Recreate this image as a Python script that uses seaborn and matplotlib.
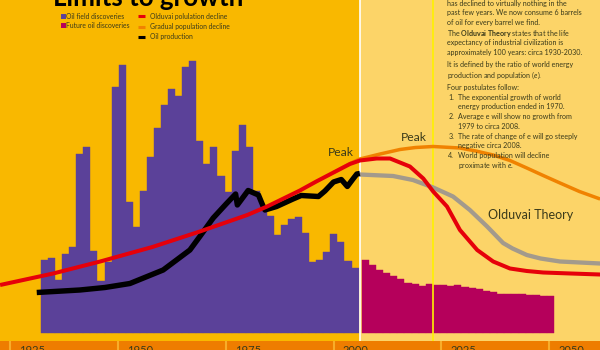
import numpy as np
import matplotlib
matplotlib.use("Agg")
import matplotlib.pyplot as plt
import seaborn as sns
from matplotlib.transforms import Affine2D, blended_transform_factory
from matplotlib.patches import Rectangle
from matplotlib.lines import Line2D

# ---------------- data ----------------
# oil field discoveries (historic) and future discoveries, one bar each
disc_values = [14.6, 15.1, 10.7, 15.9, 17.3, 35.7, 37.1, 16.4, 10.4, 14.3,
               49.1, 53.5, 26.1, 21.1, 28.4, 35.1, 40.9, 45.5, 48.8, 47.4,
               53.1, 54.3, 38.4, 33.8, 37.2, 31.3, 28.1, 36.3, 41.6, 37.2,
               28.3, 25.3, 23.4, 19.6, 21.6, 22.8, 23.2, 20.0, 14.3, 14.6,
               16.1, 19.8, 18.3, 14.5, 13.0]
future_values = [14.6, 13.6, 12.6, 12.1, 11.4, 10.9, 10.1, 9.9, 9.5, 9.8,
                 9.6, 9.6, 9.5, 9.7, 9.3, 9.1, 8.8, 8.5, 8.3, 7.8,
                 7.9, 7.9, 7.8, 7.7, 7.6, 7.5, 7.4]
disc_start, disc_step = 1932.19, 1.636
future_start, future_step = 2006.5, 1.654

# Olduvai population decline (red)
red_years = [1922.7, 1935.0, 1945.9, 1958.0, 1969.0, 1980.0, 1984.6, 1992.2,
             1996.0, 2000.0, 2003.8, 2006.1, 2010.0, 2013.1, 2017.7, 2020.8,
             2023.1, 2026.3, 2029.3, 2033.3, 2037.0, 2040.9, 2044.8, 2048.6,
             2055.0, 2061.8]
red_vals = [9.6, 11.9, 14.3, 17.2, 20.3, 23.6, 25.3, 28.5,
            30.3, 32.1, 33.8, 34.5, 34.9, 34.9, 33.3, 30.9,
            28.3, 25.3, 20.6, 16.6, 14.3, 12.9, 12.4, 12.1,
            11.9, 11.7]

# Gradual population decline (orange)
orange_years = [2000.0, 2003.8, 2006.1, 2010.8, 2015.4, 2019.0, 2023.1, 2029.3,
                2033.0, 2037.0, 2040.9, 2044.8, 2048.6, 2052.5, 2057.0, 2061.8]
orange_vals = [32.1, 33.9, 34.8, 35.8, 36.7, 37.1, 37.3, 37.0,
               36.4, 35.6, 34.5, 33.0, 31.5, 30.0, 28.3, 26.8]

# Olduvai theory (grey, production forecast)
gray_years = [2006.1, 2013.8, 2018.4, 2023.1, 2027.7, 2031.6, 2035.6, 2039.3,
              2041.5, 2044.8, 2048.0, 2052.5, 2061.8]
gray_vals = [31.7, 31.4, 30.6, 29.1, 27.3, 24.6, 21.3, 18.0,
             16.9, 15.6, 14.9, 14.3, 13.9]

# Oil production (black)
oil_years = [1931.2, 1941.2, 1947.0, 1952.8, 1960.5, 1966.7, 1969.0, 1972.1,
             1975.2, 1977.3, 1977.7, 1980.2, 1982.6, 1983.7, 1984.1, 1986.8,
             1990.6, 1992.5, 1996.5, 1998.0, 2000.0, 2001.8, 2003.2, 2004.5,
             2005.4, 2006.1]
oil_vals = [8.1, 8.6, 9.1, 9.9, 12.6, 16.6, 19.3, 23.0,
            25.9, 27.8, 25.6, 28.5, 27.6, 25.3, 24.6, 25.3,
            26.8, 27.5, 27.3, 28.4, 30.2, 30.7, 29.3, 30.8,
            31.8, 31.9]

tick_years = [1925, 1950, 1975, 2000, 2025, 2050]
tick_labels = ["1925", "1950", "1975", "2000", "2025", "2050"]
split_year = 2006.13
peak_year = 2023.0

# ---------------- style ----------------
BG_LEFT = "#F9B800"
BG_RIGHT = "#FCD468"
PURPLE = "#5B4199"
MAGENTA = "#B5005B"
RED = "#E6000A"
ORANGE = "#F08200"
GRAY = "#A39A8C"
STRIP = "#EE7D00"
SEP = "#F8AD2A"
TXT = "#3A3A1A"

sns.set_theme(style="white")
plt.rcParams["font.family"] = ["Lato", "DejaVu Sans"]
plt.rcParams["mathtext.fontset"] = "custom"
plt.rcParams["mathtext.rm"] = "Lato"
plt.rcParams["mathtext.it"] = "Lato:italic"
plt.rcParams["mathtext.bf"] = "Lato:bold"

fig = plt.figure(figsize=(6, 3.5), dpi=100)
fig.patch.set_facecolor(BG_LEFT)
PX = Affine2D().scale(1 / 600, -1 / 350).translate(0, 1) + fig.transFigure

XL = (1922.68, 2061.77)
ax = fig.add_axes([0, 9 / 350, 1, 341 / 350])
ax.set_xlim(*XL)
ax.set_ylim(-1.6, 66.6)
ax.set_facecolor(BG_LEFT)
for s in ax.spines.values():
    s.set_visible(False)
ax.set_xticks([])
ax.set_yticks([])
ax.axvspan(split_year, XL[1] + 2, color=BG_RIGHT, lw=0, zorder=0)

ax.bar(disc_start + np.arange(len(disc_values)) * disc_step, disc_values,
       width=disc_step, align="edge", color=PURPLE, edgecolor=PURPLE,
       linewidth=0.3, zorder=2)
ax.bar(future_start + np.arange(len(future_values)) * future_step, future_values,
       width=future_step, align="edge", color=MAGENTA, edgecolor=MAGENTA,
       linewidth=0.3, zorder=2)

ax.axvline(split_year, color="white", lw=1.2, zorder=3)
ax.axvline(peak_year, color="#FFF200", lw=1.2, zorder=3)

sns.lineplot(x=gray_years, y=gray_vals, ax=ax, color=GRAY, linewidth=3.1,
             sort=False, estimator=None, zorder=4, solid_capstyle="butt")
sns.lineplot(x=orange_years, y=orange_vals, ax=ax, color=ORANGE, linewidth=2.5,
             sort=False, estimator=None, zorder=5, solid_capstyle="butt")
sns.lineplot(x=oil_years, y=oil_vals, ax=ax, color="black", linewidth=3.9,
             sort=False, estimator=None, zorder=6, solid_capstyle="butt",
             solid_joinstyle="round")
sns.lineplot(x=red_years, y=red_vals, ax=ax, color=RED, linewidth=2.9,
             sort=False, estimator=None, zorder=7, solid_capstyle="butt")

ax.text(2001.6, 36.1, "Peak", fontsize=8.7, color=TXT, ha="center", va="center", zorder=8)
ax.text(2018.65, 39.1, "Peak", fontsize=8.7, color=TXT, ha="center", va="center", zorder=8)
ax.text(2045.65, 23.6, "Olduvai Theory", fontsize=9, color=TXT, ha="center",
        va="center", zorder=8)

# bottom strip with the years
ax2 = fig.add_axes([0, 0, 1, 9 / 350])
ax2.set_xlim(*XL)
ax2.set_ylim(0, 1)
ax2.set_facecolor(STRIP)
for s in ax2.spines.values():
    s.set_visible(False)
ax2.set_xticks([])
ax2.set_yticks([])
bt = blended_transform_factory(ax2.transData, ax2.transAxes)
for yr, lab in zip(tick_years, tick_labels):
    ax2.axvline(yr, color=SEP, lw=1.5)
    ax2.text(yr + 2.1, -0.44, lab, transform=bt, fontsize=8, color=TXT,
             ha="left", va="baseline", clip_on=False)

# title (cut at the top)
fig.text(53, 5.5, "Limits to growth", transform=PX, fontsize=18.6,
         fontweight="bold", color="black", ha="left", va="baseline")

# legend
fig.add_artist(Rectangle((60.5, 13.5), 5, 5, transform=PX, facecolor=PURPLE,
                         edgecolor="none"))
fig.add_artist(Rectangle((60.5, 23.0), 5, 5, transform=PX, facecolor=MAGENTA,
                         edgecolor="none"))
fig.text(66.5, 16.2, "Oil field discoveries", transform=PX, fontsize=4.9,
         color=TXT, ha="left", va="center")
fig.text(66.5, 25.8, "Future oil discoveries", transform=PX, fontsize=4.9,
         color=TXT, ha="left", va="center")
for yy, col, lab in [(16.3, RED, "Olduvai polulation decline"),
                     (27.0, ORANGE, "Gradual population decline"),
                     (36.7, "black", "Oil production")]:
    fig.add_artist(Line2D([138, 144.5], [yy, yy], transform=PX, color=col,
                          lw=2.2, solid_capstyle="butt"))
    fig.text(150, yy, lab, transform=PX, fontsize=4.9, color=TXT,
             ha="left", va="center")

# right text block
lines = [
    (447, 3.3, "has declined to virtually nothing in the"),
    (447, 12.7, "past few years. We now consume 6 barrels"),
    (447, 22.0, "of oil for every barrel we find."),
    (447, 33.3, r"The $\mathbf{Olduvai\ Theory}$ states that the life"),
    (447, 42.7, "expectancy of industrial civilization is"),
    (447, 52.7, "approximately 100 years: circa 1930-2030."),
    (447, 65.0, "It is defined by the ratio of world energy"),
    (447, 75.0, r"production and population ($\mathit{e}$)."),
    (447, 87.3, "Four postulates follow:"),
    (448.3, 97.3, "1."),
    (457.7, 97.3, "The exponential growth of world"),
    (457.7, 106.7, "energy production ended in 1970."),
    (448.3, 116.7, "2."),
    (457.7, 116.7, "Average e will show no growth from"),
    (457.7, 126.7, "1979 to circa 2008."),
    (448.3, 136.7, "3."),
    (457.7, 136.7, "The rate of change of e will go steeply"),
    (457.7, 145.7, "negative circa 2008."),
    (448.3, 155.7, "4."),
    (457.7, 155.7, "World population will decline"),
    (457.7, 165.7, r"proximate with $\mathit{e}$."),
]
for x, y, s in lines:
    fig.text(x, y, s, transform=PX, fontsize=5.1, color=TXT, ha="left", va="center")

fig.savefig("out.png", dpi=100, facecolor=fig.get_facecolor())
